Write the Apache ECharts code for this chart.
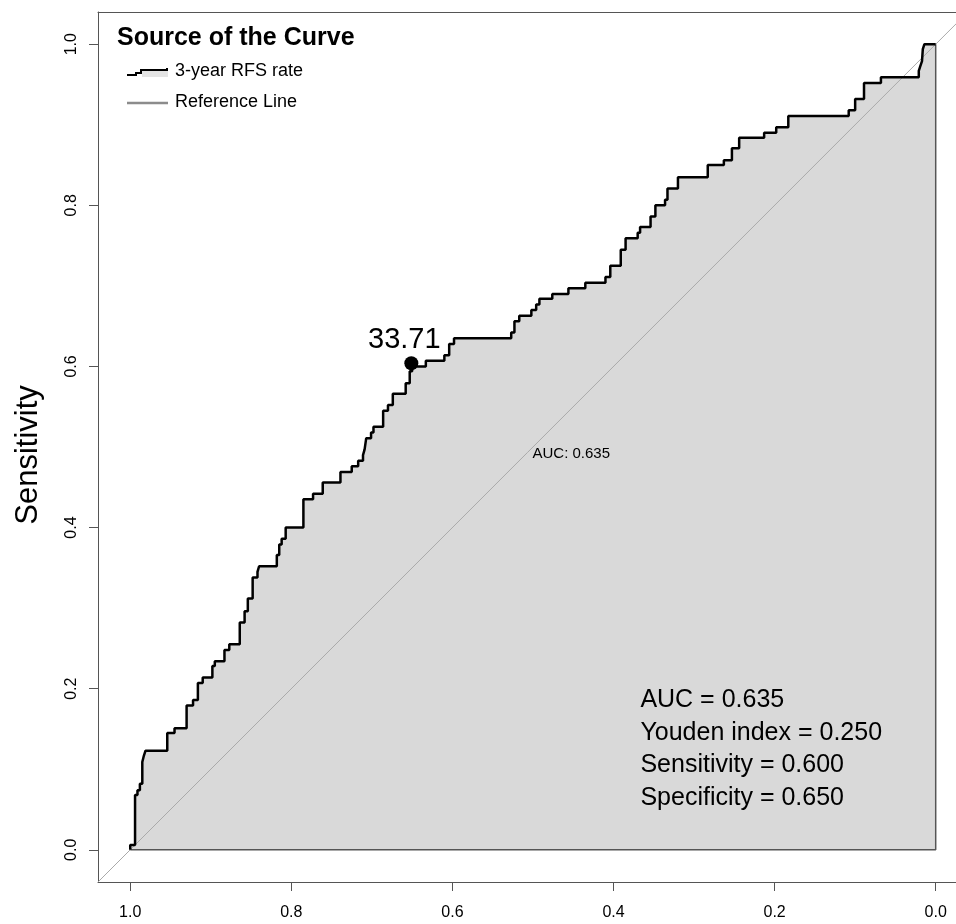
<!DOCTYPE html>
<html>
<head>
<meta charset="utf-8">
<script src="https://cdn.jsdelivr.net/npm/echarts@6/dist/echarts.min.js"></script>
<style>
  html, body { margin: 0; background: #fff; }
  #chart { width: 956px; height: 924px; }
</style>
</head>
<body>
<div id="chart"></div>
<script>
const FONT = '"Liberation Sans", Arial, Helvetica, sans-serif';

// ROC corners after each rise in sensitivity (step drawn horizontally first)
const rocSpec = [
  1.000, 1.000, 0.994, 0.991, 0.988, 0.985, 0.983, 0.981, 0.954, 0.945,
  0.930, 0.922, 0.916, 0.910, 0.898, 0.895, 0.883, 0.877, 0.864, 0.858,
  0.854, 0.848, 0.842, 0.840, 0.818, 0.815, 0.812, 0.807, 0.785, 0.773,
  0.761, 0.739, 0.725, 0.717, 0.711, 0.709, 0.707, 0.701, 0.698, 0.686,
  0.680, 0.674, 0.658, 0.653, 0.650, 0.633, 0.610, 0.604, 0.598, 0.527,
  0.523, 0.517, 0.502, 0.496, 0.492, 0.476, 0.456, 0.435, 0.410, 0.404,
  0.391, 0.385, 0.370, 0.367, 0.354, 0.348, 0.336, 0.333, 0.320, 0.283,
  0.263, 0.253, 0.244, 0.213, 0.198, 0.183, 0.108, 0.100, 0.089, 0.068,
  0.021, 0.019, 0.017, 0.016, 0.014, 0.000
];
const rocSens = [
  0.000, 0.006, 0.068, 0.074, 0.082, 0.109, 0.117, 0.123, 0.145, 0.151,
  0.179, 0.186, 0.207, 0.214, 0.228, 0.234, 0.248, 0.255, 0.282, 0.296,
  0.312, 0.338, 0.345, 0.352, 0.366, 0.379, 0.386, 0.400, 0.435, 0.442,
  0.456, 0.469, 0.476, 0.483, 0.490, 0.497, 0.511, 0.518, 0.525, 0.545,
  0.552, 0.566, 0.579, 0.594, 0.600, 0.607, 0.614, 0.628, 0.635, 0.642,
  0.656, 0.663, 0.670, 0.677, 0.684, 0.690, 0.697, 0.704, 0.711, 0.725,
  0.745, 0.759, 0.766, 0.773, 0.786, 0.800, 0.807, 0.821, 0.835, 0.850,
  0.856, 0.871, 0.884, 0.890, 0.897, 0.911, 0.918, 0.932, 0.952, 0.959,
  0.967, 0.973, 0.979, 0.994, 1.000, 1.000
];

const tickValues = [0, 0.2, 0.4, 0.6, 0.8, 1.0];
const bestPoint = [0.651, 0.604];
const bestLabel = '33.71';
const aucAt = [0.5, 0.5];
const aucLabel = 'AUC: 0.635';
const statsAt = [0.366, 0.205];
const statLines = ['AUC = 0.635', 'Youden index = 0.250', 'Sensitivity = 0.600', 'Specificity = 0.650'];
const yTitle = 'Sensitivity';
const legendTitle = 'Source of the Curve';
const legendNames = ['3-year RFS rate', 'Reference Line'];

const COLORS = { fill: '#d9d9d9', curve: '#000', ref: '#aaaaaa', frame: '#555', text: '#000' };

const rocData = rocSpec.map((s, i) => [s, rocSens[i]]);

// the plot region runs past the right edge of the picture, as in the original
const X_MIN = -0.0252, X_MAX = 1.04;
const Y_MIN = -0.04, Y_MAX = 1.04;

const tickLabel = (extra) => Object.assign({
  customValues: tickValues, formatter: (v) => v.toFixed(1),
  fontSize: 16, color: COLORS.text, fontFamily: FONT,
}, extra);

const option = {
  backgroundColor: '#fff',
  animation: false,
  textStyle: { fontFamily: FONT },
  grid: { left: 98, top: 12, right: 0, height: 870 },
  xAxis: [
    {
      type: 'value', inverse: true, min: X_MIN, max: X_MAX, position: 'bottom',
      splitLine: { show: false },
      axisLine: { show: true, onZero: false, lineStyle: { color: COLORS.frame, width: 1 } },
      axisTick: { show: true, customValues: tickValues, length: 9, lineStyle: { color: COLORS.frame } },
      axisLabel: tickLabel({ margin: 23 }),
    },
    {
      type: 'value', inverse: true, min: X_MIN, max: X_MAX, position: 'top',
      splitLine: { show: false }, axisTick: { show: false }, axisLabel: { show: false },
      axisLine: { show: true, onZero: false, lineStyle: { color: COLORS.frame, width: 1 } },
    },
  ],
  yAxis: {
    type: 'value', min: Y_MIN, max: Y_MAX,
    splitLine: { show: false },
    axisLine: { show: true, onZero: false, lineStyle: { color: COLORS.frame, width: 1 } },
    axisTick: { show: true, customValues: tickValues, length: 9, lineStyle: { color: COLORS.frame } },
    axisLabel: tickLabel({ rotate: 90, margin: 18 }),
  },
  graphic: [
    { type: 'text', x: 28, y: 455, rotation: Math.PI / 2, silent: true,
      style: { text: yTitle, font: '31px ' + FONT, fill: '#000', align: 'center', verticalAlign: 'middle' } },
    { type: 'text', left: 117, top: 26, silent: true,
      style: { text: legendTitle, font: 'bold 25px ' + FONT, fill: '#000' } },
    { type: 'rect', silent: true, shape: { x: 142, y: 69, width: 26, height: 8 },
      style: { fill: '#e4e4e4' } },
    { type: 'polyline', silent: true,
      shape: { points: [[127, 75], [136, 75], [136, 73], [141, 73], [141, 70], [167, 70], [167, 68]] },
      style: { stroke: '#000', lineWidth: 2, fill: null } },
    { type: 'text', left: 175, top: 62, silent: true,
      style: { text: legendNames[0], font: '18px ' + FONT, fill: '#000' } },
    { type: 'line', silent: true, shape: { x1: 127, y1: 103, x2: 168, y2: 103 },
      style: { stroke: '#8c8c8c', lineWidth: 2.5 } },
    { type: 'text', left: 175, top: 93, silent: true,
      style: { text: legendNames[1], font: '18px ' + FONT, fill: '#000' } },
  ],
  series: [
    {
      name: 'area', type: 'line', data: rocData, step: 'end', symbol: 'none', silent: true, z: 1,
      lineStyle: { width: 0 },
      areaStyle: { color: COLORS.fill, opacity: 1, origin: 0 },
    },
    {
      name: 'edge', type: 'line', data: [[0, 1], [0, 0], [1, 0]], symbol: 'none', silent: true, z: 2,
      lineStyle: { color: COLORS.frame, width: 1.5 },
    },
    {
      name: 'Reference Line', type: 'line', data: [[1.04, -0.04], [-0.04, 1.04]],
      symbol: 'none', silent: true, z: 2,
      lineStyle: { color: COLORS.ref, width: 1 },
    },
    {
      name: '3-year RFS rate', type: 'line', data: rocData, step: 'end', symbol: 'none', silent: true, z: 3,
      lineStyle: { color: COLORS.curve, width: 2.5 },
    },
    {
      name: 'best', type: 'scatter', data: [bestPoint], symbolSize: 14, silent: true, z: 4,
      itemStyle: { color: '#000', opacity: 1 },
      label: {
        show: true, position: 'top', distance: 2, offset: [-7, 0],
        formatter: bestLabel, fontSize: 29, color: '#000', fontFamily: FONT,
      },
    },
    {
      name: 'auc', type: 'scatter', data: [aucAt], symbolSize: 1, silent: true, z: 4,
      itemStyle: { color: 'rgba(0,0,0,0)', opacity: 1 },
      label: {
        show: true, position: [0, 0], align: 'left', verticalAlign: 'top',
        formatter: aucLabel, fontSize: 15, color: COLORS.text, fontFamily: FONT,
      },
    },
    {
      name: 'stats', type: 'scatter', data: [statsAt], symbolSize: 1, silent: true, z: 4,
      itemStyle: { color: 'rgba(0,0,0,0)', opacity: 1 },
      label: {
        show: true, position: [0, 0], align: 'left', verticalAlign: 'top',
        formatter: statLines.join('\n'), fontSize: 25, lineHeight: 32.5,
        color: COLORS.text, fontFamily: FONT,
      },
    },
  ],
};

const chart = echarts.init(document.getElementById('chart'), null, { renderer: 'canvas' });
chart.setOption(option);
</script>
</body>
</html>
